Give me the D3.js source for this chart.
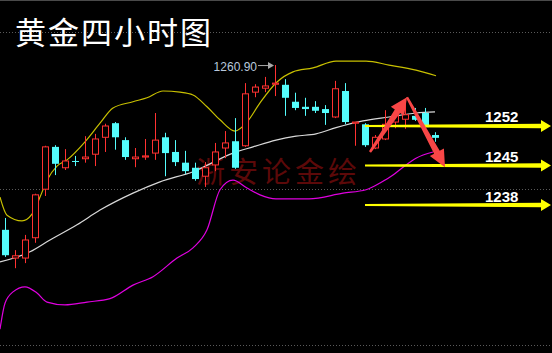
<html>
<head>
<meta charset="utf-8">
<script src="https://d3js.org/d3.v7.min.js"></script>
<style>
    body { margin: 0; background: #000; }
    svg { display: block; background: #000; }
</style>
</head>
<body>
<svg width="552" height="353"></svg>
<script>

// 4h candles, one per bar
var opens  = [1233.6,1228.6,1228.6,1232.2,1240.8,1248.3,1244.6,1245.8,1246.2,1247.0,1250.0,1252.5,1249.5,1246.2,1246.5,1247.2,1250.0,1247.4,1245.5,1244.6,1243.1,1245.1,1248.1,1249.3,1248.5,1258.0,1258.7,1259.4,1259.3,1256.3,1255.4,1255.4,1255.0,1253.6,1258.2,1252.5,1252.3,1248.1,1249.7,1252.7,1253.2,1253.8,1254.3,1250.4];
var closes = [1229.1,1229.0,1231.8,1239.8,1248.3,1245.3,1245.8,1245.7,1246.5,1249.7,1252.0,1250.0,1246.5,1246.5,1246.7,1249.5,1247.2,1245.6,1244.0,1242.6,1244.6,1247.4,1249.0,1244.6,1257.7,1258.9,1259.1,1259.6,1257.0,1255.2,1255.0,1254.7,1254.3,1258.6,1252.7,1252.7,1248.6,1250.0,1252.3,1254.0,1254.0,1253.1,1251.8,1249.9];
var highs  = [1235.7,1230.0,1232.7,1240.0,1248.5,1248.6,1247.9,1246.7,1250.2,1250.6,1252.4,1252.7,1250.0,1248.1,1249.7,1254.3,1250.8,1249.5,1247.6,1245.5,1245.6,1249.0,1251.1,1253.4,1259.6,1259.4,1260.7,1262.8,1260.3,1257.9,1257.0,1256.4,1255.7,1260.0,1259.6,1252.7,1252.5,1250.4,1254.8,1254.7,1255.9,1255.2,1255.2,1250.9];
var lows   = [1228.8,1226.8,1227.7,1231.3,1239.6,1243.3,1244.2,1244.9,1245.5,1244.9,1247.4,1247.8,1246.0,1244.7,1246.0,1246.0,1243.1,1244.9,1243.5,1242.3,1241.2,1244.0,1246.3,1244.4,1248.3,1257.1,1258.0,1257.3,1253.8,1254.8,1253.8,1254.3,1252.2,1253.4,1252.3,1248.5,1248.3,1247.9,1249.5,1251.6,1251.5,1252.9,1251.6,1249.2];

// bollinger bands as [bar position, price]
var upperBand = [[-0.5,1239.4],[0.2,1236.2],[1.7,1235.2],[2.7,1236.4],[3.5,1239.4],[4.2,1242.4],[5.2,1244.9],[6.2,1246.0],[8.0,1249.2],[9.5,1252.5],[10.8,1255.2],[12.8,1256.3],[14.2,1257.0],[15.8,1258.2],[17.5,1258.0],[18.8,1257.5],[20.2,1255.4],[21.5,1253.1],[23.0,1251.1],[24.2,1252.7],[25.5,1256.1],[27.2,1259.8],[28.8,1261.6],[30.8,1262.3],[33.1,1263.5],[36.1,1263.5],[38.4,1262.8],[41.1,1261.9],[43.1,1260.9]];
var midBand   = [[-0.5,1227.9],[2.5,1229.7],[4.5,1231.8],[7.2,1234.5],[9.5,1237.1],[12.8,1240.1],[15.5,1242.1],[18.8,1243.9],[22.8,1247.2],[24.8,1248.3],[27.1,1249.5],[29.1,1250.2],[31.1,1250.6],[33.1,1251.7],[35.8,1252.9],[38.4,1253.6],[41.1,1254.3],[43.0,1254.5]];
var lowerBand = [[-0.5,1216.0],[0.0,1220.6],[0.8,1222.6],[2.0,1223.5],[3.2,1222.4],[4.2,1220.8],[6.0,1220.3],[8.2,1220.8],[10.5,1221.4],[12.8,1223.8],[14.8,1225.3],[17.2,1228.6],[18.8,1230.4],[20.2,1233.6],[21.5,1240.7],[22.8,1242.4],[24.2,1241.0],[25.5,1239.8],[27.1,1239.1],[30.4,1239.1],[33.8,1240.1],[36.1,1240.7],[37.5,1241.9],[38.8,1243.3],[39.8,1244.7],[41.1,1246.3],[42.8,1247.4]];

// levels and notes drawn on the chart
var levels = [1252, 1245, 1238];
var levelLabels = ["1252", "1245", "1238"];
var gridLevels = [1268.7, 1240.8, 1213.2];
var upArrow = [[36.5,1247.4],[40.2,1257.1]];
var downArrow = [[40.2,1257.1],[44.0,1244.7]];
var highLabel = "1260.90";
var title = "黄金四小时图";
var watermark = "浙安论金绘";

var width = 552, height = 353;

var x = d3.scaleLinear().domain([-0.5, 43.5]).range([0, 440]);
var y = d3.scaleLinear().domain([1238, 1252]).range([205, 126]);

var svg = d3.select("svg");

// top border
svg.append("line").attr("x1",0).attr("x2",width).attr("y1",0.5).attr("y2",0.5)
    .attr("stroke","#4a4a4a");

// dotted grid
svg.selectAll(".grid").data(gridLevels).enter().append("line")
    .attr("x1",0).attr("x2",width)
    .attr("y1",function(d){ return Math.round(y(d)) + 0.5; })
    .attr("y2",function(d){ return Math.round(y(d)) + 0.5; })
    .attr("stroke","#5a5a5a").attr("stroke-dasharray","1,2");

// watermark
svg.append("text").attr("x",196).attr("y",183).text(watermark)
    .style("font-family","'Noto Sans CJK SC'").style("font-size","29px")
    .style("letter-spacing","4px").attr("fill","#5c0909");

// bands
var band = d3.line().x(function(d){ return x(d[0]); }).y(function(d){ return y(d[1]); })
    .curve(d3.curveMonotoneX);
svg.append("path").attr("d", band(upperBand)).attr("fill","none").attr("stroke","#c8c000").attr("stroke-width",1.2);
svg.append("path").attr("d", band(midBand)).attr("fill","none").attr("stroke","#d8d8d8").attr("stroke-width",1.2);
svg.append("path").attr("d", band(lowerBand)).attr("fill","none").attr("stroke","#e000e0").attr("stroke-width",1.2);

// candles
var bars = opens.map(function(o, i) {
    return {i: i, o: o, c: closes[i], h: highs[i], l: lows[i]};
});
var red = "#ff3232", cyan = "#54fcfc";

var g = svg.append("g");
g.selectAll(".wick").data(bars).enter().append("line")
    .attr("x1",function(d){ return Math.round(x(d.i)) + 0.5; })
    .attr("x2",function(d){ return Math.round(x(d.i)) + 0.5; })
    .attr("y1",function(d){ return y(d.h); })
    .attr("y2",function(d){ return y(d.l); })
    .attr("stroke",function(d){ return d.c >= d.o ? red : cyan; });

g.selectAll(".body").data(bars).enter().append("rect")
    .attr("x",function(d){ return d.c >= d.o ? Math.round(x(d.i)) - 2.5 : Math.round(x(d.i)) - 3; })
    .attr("width",function(d){ return d.c >= d.o ? 6 : 7; })
    .attr("y",function(d){ return y(Math.max(d.o, d.c)); })
    .attr("height",function(d){ return Math.max(1, y(Math.min(d.o, d.c)) - y(Math.max(d.o, d.c))); })
    .attr("fill",function(d){ return d.c >= d.o ? "#000" : cyan; })
    .attr("stroke",function(d){ return d.c >= d.o ? red : "none"; });

// label at the top bar
var topIdx = d3.maxIndex(highs);
var tx = x(topIdx) - 1, ty = y(highs[topIdx]);
svg.append("line").attr("x1",tx - 16).attr("x2",tx - 5).attr("y1",ty + 0.5).attr("y2",ty + 0.5)
    .attr("stroke","#a8a8a8");
svg.append("path").attr("d","M" + (tx - 6) + "," + (ty - 3) + "L" + tx + "," + (ty + 0.5) + "L" + (tx - 6) + "," + (ty + 4) + "Z")
    .attr("fill","#a8a8a8");
svg.append("text").attr("x",tx - 17).attr("y",ty + 6).text(highLabel)
    .attr("text-anchor","end").attr("fill","#b8c8dc")
    .style("font-family","'Liberation Sans', Arial, sans-serif").style("font-size","12px");

// yellow level arrows
var x0 = x(36.0), x1 = width - 1;
levels.forEach(function(v, k) {
    var yy = y(v);
    var pts = [[x0, yy - 1], [x1 - 10, yy - 2.2], [x1 - 10, yy - 6], [x1, yy], [x1 - 10, yy + 6],
               [x1 - 10, yy + 2.2], [x0, yy + 1]];
    svg.append("path").attr("d", d3.line()(pts) + "Z").attr("fill","#ffff00");
    svg.append("text").attr("x",485).attr("y",yy - (k == 2 ? 3 : 4)).text(levelLabels[k])
        .attr("fill","#fff").style("font-family","'Liberation Sans', Arial, sans-serif")
        .style("font-size","15px").style("font-weight","bold");
});

// red trend arrows
function arrow(a) {
    var ax = x(a[0][0]), ay = y(a[0][1]), bx = x(a[1][0]), by = y(a[1][1]);
    var len = Math.hypot(bx - ax, by - ay), ux = (bx - ax) / len, uy = (by - ay) / len;
    var nx = -uy, ny = ux, hl = 17, hw = 8;
    var cx = bx - ux * hl, cy = by - uy * hl;
    var pts = [[ax + nx * 1.2, ay + ny * 1.2], [cx + nx * 3.2, cy + ny * 3.2], [cx + nx * hw, cy + ny * hw],
               [bx, by], [cx - nx * hw, cy - ny * hw], [cx - nx * 3.2, cy - ny * 3.2], [ax - nx * 1.2, ay - ny * 1.2]];
    svg.append("path").attr("d", d3.line()(pts) + "Z").attr("fill","#f84646");
}
arrow(upArrow);
arrow(downArrow);

// title
svg.append("text").attr("x",15).attr("y",44).text(title)
    .attr("fill","#fff").style("font-family","'Noto Sans CJK SC'").style("font-size","31px")
    .style("letter-spacing","2px");

</script>
</body>
</html>
